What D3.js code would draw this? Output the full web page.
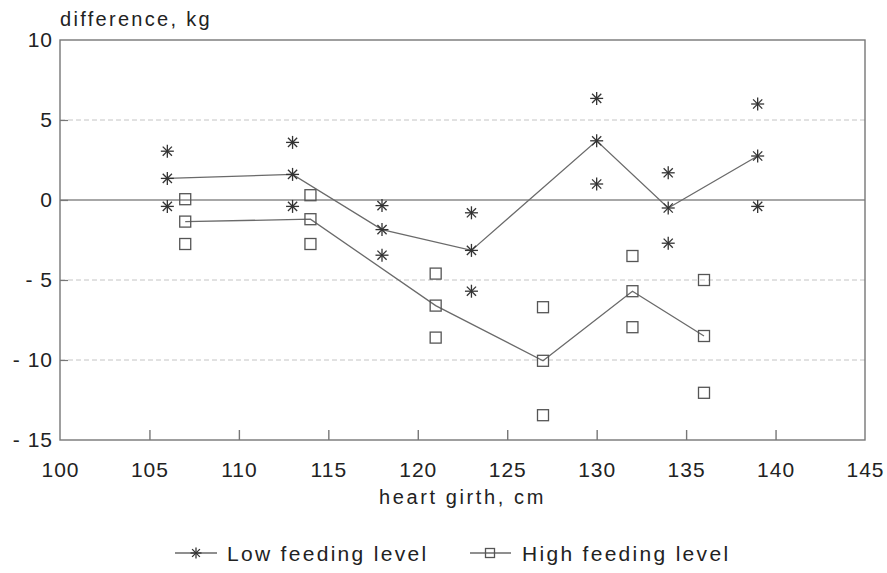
<!DOCTYPE html>
<html><head><meta charset="utf-8">
<script src="https://cdn.jsdelivr.net/npm/d3@7"></script>
<style>
body{margin:0;background:#fff;}
text{font-family:"Liberation Sans",Arial,sans-serif;fill:#222;}
</style></head>
<body><svg id="c" width="887" height="573"></svg>
<script>
// data
const lowX = [106,106,106,113,113,113,118,118,118,123,123,123,130,130,130,134,134,134,139,139,139];
const lowY = [3.05,1.35,-0.4,3.6,1.6,-0.4,-0.35,-1.85,-3.45,-0.8,-3.15,-5.7,6.35,3.7,1.0,1.7,-0.5,-2.7,6.0,2.75,-0.4];
const lowMeanX = [106,113,118,123,130,134,139];
const lowMeanY = [1.35,1.6,-1.85,-3.15,3.7,-0.5,2.75];
const highX = [107,107,107,114,114,114,121,121,121,127,127,127,132,132,132,136,136,136];
const highY = [0.05,-1.35,-2.75,0.3,-1.2,-2.75,-4.6,-6.6,-8.6,-6.7,-10.05,-13.45,-3.5,-5.7,-7.95,-5.0,-8.5,-12.05];
const highMeanX = [107,114,121,127,132,136];
const highMeanY = [-1.35,-1.2,-6.6,-10.05,-5.7,-8.5];
const xTicks = [100,105,110,115,120,125,130,135,140,145];
const yTicks = [-15,-10,-5,0,5,10];
const seriesNames = ["Low feeding level","High feeding level"];

const svg = d3.select("#c");
const L=60,R=865,T=40,B=440;
const x = d3.scaleLinear().domain([100,145]).range([L,R]);
const y = d3.scaleLinear().domain([-15,10]).range([B,T]);
const g = svg.append("g");

// grid
g.selectAll("line.grid").data(yTicks.filter(d=>d!==0 && d!==10 && d!==-15)).enter().append("line")
 .attr("x1",L).attr("x2",R).attr("y1",d=>y(d)).attr("y2",d=>y(d))
 .attr("stroke","#c4c4c4").attr("stroke-width",1).attr("stroke-dasharray","5,3");
g.append("line").attr("x1",L).attr("x2",R).attr("y1",y(0)).attr("y2",y(0))
 .attr("stroke","#8a8a8a").attr("stroke-width",1.3);

// frame
g.append("rect").attr("x",L).attr("y",T).attr("width",R-L).attr("height",B-T)
 .attr("fill","none").attr("stroke","#777").attr("stroke-width",1.4);

// axes with inward ticks
const xAxis = d3.axisBottom(x).tickValues(xTicks).tickSizeInner(-10).tickSizeOuter(0).tickPadding(22);
const xa = svg.append("g").attr("transform",`translate(0,${B})`).call(xAxis);
xa.select(".domain").remove();
xa.selectAll(".tick line").attr("stroke","#777").attr("stroke-width",1.4)
  .attr("display",d=>(d===100||d===145)?"none":null);
xa.selectAll(".tick text").attr("font-size",21).attr("letter-spacing","1px").attr("fill","#222")
  .attr("font-family","Liberation Sans, Arial, sans-serif");

const yAxis = d3.axisLeft(y).tickValues(yTicks).tickSizeInner(-8).tickSizeOuter(0).tickPadding(7)
  .tickFormat(d=>d<0?"- "+Math.abs(d):String(d));
const ya = svg.append("g").attr("transform",`translate(${L},0)`).call(yAxis);
ya.select(".domain").remove();
ya.selectAll(".tick line").attr("stroke","#777").attr("stroke-width",1.2)
  .attr("display",d=>(d===10||d===-15)?"none":null);
ya.selectAll(".tick text").attr("font-size",21).attr("letter-spacing","1px").attr("fill","#222")
  .attr("font-family","Liberation Sans, Arial, sans-serif");

// titles
svg.append("text").attr("x",L).attr("y",26).attr("font-size",20).attr("letter-spacing","2.3px").text("difference, kg");
svg.append("text").attr("x",(L+R)/2).attr("y",504).attr("text-anchor","middle").attr("font-size",20).attr("letter-spacing","2.6px").text("heart girth, cm");

// lines
const line = d3.line().x(d=>x(d[0])).y(d=>y(d[1]));
g.append("path").datum(lowMeanX.map((v,i)=>[v,lowMeanY[i]])).attr("d",line)
 .attr("fill","none").attr("stroke","#6a6a6a").attr("stroke-width",1.3);
g.append("path").datum(highMeanX.map((v,i)=>[v,highMeanY[i]])).attr("d",line)
 .attr("fill","none").attr("stroke","#6a6a6a").attr("stroke-width",1.3);

// markers
function star(sel,cx,cy,r){
  const gg=sel.append("g").attr("transform",`translate(${cx},${cy})`).attr("stroke","#333").attr("stroke-width",1.3);
  for(let k=0;k<4;k++){const a=k*Math.PI/4;
    gg.append("line").attr("x1",-r*Math.cos(a)).attr("y1",-r*Math.sin(a)).attr("x2",r*Math.cos(a)).attr("y2",r*Math.sin(a));}
}
function square(sel,cx,cy,r){
  sel.append("rect").attr("x",cx-r).attr("y",cy-r).attr("width",2*r).attr("height",2*r)
   .attr("fill","none").attr("stroke","#555").attr("stroke-width",1.3);
}
lowX.forEach((v,i)=>star(g,x(v),y(lowY[i]),6.5));
highX.forEach((v,i)=>square(g,x(v),y(highY[i]),5.5));

// legend
const ly=553;
const lg=svg.append("g");
lg.append("line").attr("x1",175).attr("x2",217).attr("y1",ly).attr("y2",ly).attr("stroke","#6a6a6a").attr("stroke-width",1.3);
star(lg,196,ly,5.5);
lg.append("text").attr("x",227).attr("y",ly+8).attr("font-size",21).attr("letter-spacing","2.3px").text(seriesNames[0]);
lg.append("line").attr("x1",470).attr("x2",511).attr("y1",ly).attr("y2",ly).attr("stroke","#6a6a6a").attr("stroke-width",1.3);
square(lg,490,ly,4.5);
lg.append("text").attr("x",522).attr("y",ly+8).attr("font-size",21).attr("letter-spacing","2.3px").text(seriesNames[1]);
</script></body></html>
